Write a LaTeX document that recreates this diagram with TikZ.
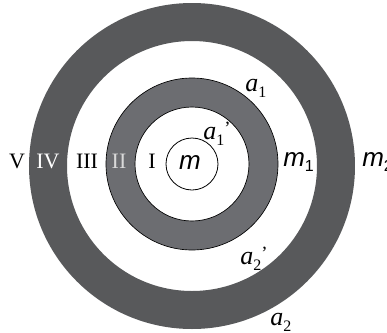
\documentclass[tikz,border=0pt]{standalone}
\usepackage{fontspec}
\setmainfont{Liberation Serif}
\setsansfont{Liberation Sans}
\usepackage{tikz}
\usetikzlibrary{positioning}
\definecolor{outerring}{RGB}{88,89,91}
\definecolor{innerring}{RGB}{108,109,113}
\newcommand{\msym}{\textsf{\itshape m}}
\newcommand{\asym}{\textit{a}}
\newcommand{\lowidx}[1]{\raisebox{-0.5ex}{\fontsize{12}{14}\selectfont #1}}
\newcommand{\primemark}{\raisebox{0.45ex}{\fontsize{14}{16}\selectfont\textquoteright}}

\begin{document}
\begin{tikzpicture}[x=0.75pt, y=-0.75pt,
  ringlabel/.style={font=\fontsize{16.5}{18}\selectfont, inner sep=0pt},
  masslabel/.style={font=\fontsize{19.5}{22}\selectfont, inner sep=0pt},
  radlabel/.style={font=\fontsize{19.5}{22}\selectfont, inner sep=0pt, anchor=west}
]
\useasboundingbox (0,0) rectangle (387,333);
% rings
\fill[outerring, even odd rule] (192,166) circle[radius=163] (192,166) circle[radius=125];
\fill[innerring, draw=black, line width=0.5pt, even odd rule] (192,164) circle[radius=86] (192,164) circle[radius=57];
\draw[line width=0.6pt] (192,164) circle[radius=26];

% region labels
\node[ringlabel] (r5) at (17,161) {V};
\node[ringlabel, text=white] (r4) at (48,161) {IV};
\node[ringlabel] (r3) at (87,161) {III};
\node[ringlabel, text=black!15] (r2) at (119,161) {II};
\node[ringlabel] (r1) at (152,161) {I};

% masses
\node[masslabel] (m0) at (190,163) {\msym};
\node[masslabel, anchor=west] (m1) at (283,162) {\msym\lowidx{\textsf{1}}};
\node[masslabel, anchor=west] (m2) at (362,162) {\msym\lowidx{\textsf{2}}};

% radii
\node[radlabel] (a1) at (245,88) {\asym\lowidx{1}};
\node[radlabel] (a1p) at (203,134) {\asym\lowidx{1}\primemark};
\node[radlabel] (a2p) at (240,259) {\asym\lowidx{2}\primemark};
\node[radlabel] (a2) at (270,322) {\asym\lowidx{2}};
\end{tikzpicture}
\end{document}
